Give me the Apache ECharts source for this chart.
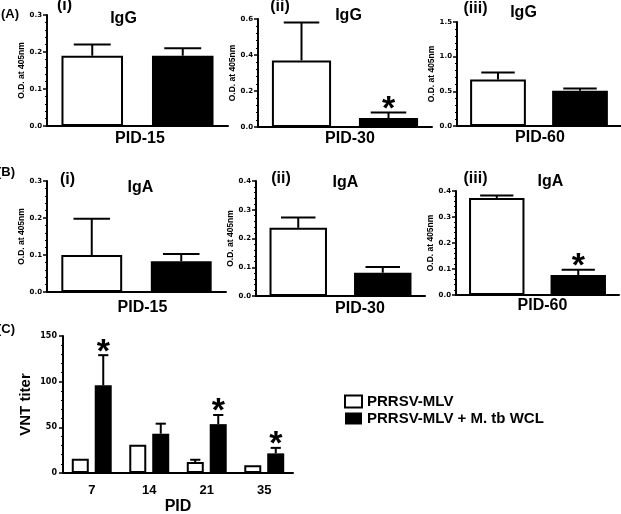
<!DOCTYPE html>
<html><head><meta charset="utf-8">
<script src="https://cdn.jsdelivr.net/npm/echarts@6/dist/echarts.min.js"></script>
<style>html,body{margin:0;padding:0;background:#fff}#c{width:621px;height:514px}</style>
</head><body><div id="c"></div>
<script>
// ---------- data ----------
const groupNames = ['PRRSV-MLV', 'PRRSV-MLV + M. tb WCL'];
const panelDays = ['PID-15', 'PID-30', 'PID-60'];
const panelNumerals = ['(i)', '(ii)', '(iii)'];

const igG_MLV = [0.19, 0.37, 0.67];
const igG_MLV_err = [0.03, 0.21, 0.10];
const igG_WCL = [0.19, 0.05, 0.51];
const igG_WCL_err = [0.02, 0.03, 0.03];
const igG_sig = [false, true, false];
const igG_axisMax = [0.3, 0.6, 1.5];
const igG_axisStep = [0.1, 0.2, 0.5];

const igA_MLV = [0.10, 0.237, 0.373];
const igA_MLV_err = [0.098, 0.036, 0.01];
const igA_WCL = [0.083, 0.081, 0.077];
const igA_WCL_err = [0.02, 0.02, 0.02];
const igA_sig = [false, false, true];
const igA_axisMax = [0.3, 0.4, 0.4];
const igA_axisStep = [0.1, 0.1, 0.1];

const vntDays = ['7', '14', '21', '35'];
const vnt_MLV = [15.6, 31, 12, 8.4];
const vnt_MLV_err = [0, 0, 2.5, 0];
const vnt_WCL = [96, 43, 53.5, 21.5];
const vnt_WCL_err = [33, 11, 10, 6];
const vnt_sig = [true, false, true, true];
const vntAxisMax = 150, vntAxisStep = 50;

// ---------- layout / style ----------
const FONT = '"Liberation Sans", Arial, sans-serif';
const TICKFONT = '"DejaVu Sans", sans-serif';
const gridsAB = [
  {left: 47, top: 15, width: 181, height: 111},
  {left: 258, top: 19, width: 174, height: 108},
  {left: 457, top: 22, width: 164, height: 104},
  {left: 47, top: 181, width: 179, height: 111},
  {left: 256, top: 181, width: 169, height: 115},
  {left: 456, top: 191, width: 163, height: 104}
];
const gridC = {left: 63, top: 336, width: 230, height: 137};
const BLACK = '#000';
const whiteStyle = {color: '#fff', borderColor: BLACK, borderWidth: 2};
const blackStyle = {color: BLACK, borderColor: BLACK, borderWidth: 0};
const axisLineStyle = {color: BLACK, width: 2};

function makeErrRender(fixedBarW, offset) {
  return function (params, api) {
    const cat = api.value(0), v = api.value(1), e = api.value(2), s = api.value(3), side = api.value(4);
    const base = api.coord([cat, v]);
    const top = api.coord([cat, v + e]);
    const barW = fixedBarW || api.size([1, 0])[0] * 0.68;
    const cap = barW * 0.6;
    const x = base[0] + side * offset;
    const children = [];
    if (e > 0) {
      children.push({type: 'line', shape: {x1: x, y1: base[1], x2: x, y2: top[1]}, style: {stroke: BLACK, lineWidth: 2}});
      children.push({type: 'line', shape: {x1: x - cap / 2, y1: top[1], x2: x + cap / 2, y2: top[1]}, style: {stroke: BLACK, lineWidth: 2}});
    }
    if (s) {
      children.push({type: 'text', x: x, y: top[1] - 3,
        style: {text: '*', font: 'bold 34px ' + FONT, align: 'center', verticalAlign: 'middle', fill: BLACK}});
    }
    return {type: 'group', children: children};
  };
}

const grid = [], xAxis = [], yAxis = [], series = [];

function addPanel(i, mlv, mlvErr, wcl, wclErr, sig, max, step) {
  grid.push(Object.assign({outerBoundsMode: 'none', containLabel: false}, gridsAB[i]));
  xAxis.push({gridIndex: i, type: 'category', data: groupNames,
    axisLine: {lineStyle: axisLineStyle}, axisTick: {show: false}, axisLabel: {show: false}});
  yAxis.push({gridIndex: i, type: 'value', min: 0, max: max, interval: step,
    name: 'O.D. at 405nm', nameLocation: 'middle', nameGap: 20,
    nameTextStyle: {fontFamily: FONT, fontSize: 8.5, fontWeight: 'bold', color: BLACK},
    axisLine: {show: true, lineStyle: axisLineStyle},
    axisTick: {show: true, length: 4, lineStyle: {color: BLACK, width: 1.5}},
    minorTick: {show: true, splitNumber: 5, length: 2, lineStyle: {color: BLACK, width: 1}},
    splitLine: {show: false},
    axisLabel: {fontFamily: TICKFONT, fontSize: 7, fontWeight: 'bold', color: BLACK, margin: 5,
      formatter: function (v) { return v.toFixed(1); }}});
  series.push({type: 'bar', name: 'p' + i, xAxisIndex: i, yAxisIndex: i, barWidth: '68%', silent: true,
    data: [{value: mlv, itemStyle: whiteStyle}, {value: wcl, itemStyle: blackStyle}]});
  series.push({type: 'custom', name: 'e' + i, xAxisIndex: i, yAxisIndex: i, z: 5, silent: true,
    renderItem: makeErrRender(0, 0),
    data: [[0, mlv, mlvErr, 0, 0], [1, wcl, wclErr, sig ? 1 : 0, 0]]});
}

for (let k = 0; k < 3; k++) {
  addPanel(k, igG_MLV[k], igG_MLV_err[k], igG_WCL[k], igG_WCL_err[k], igG_sig[k], igG_axisMax[k], igG_axisStep[k]);
}
for (let k = 0; k < 3; k++) {
  addPanel(k + 3, igA_MLV[k], igA_MLV_err[k], igA_WCL[k], igA_WCL_err[k], igA_sig[k], igA_axisMax[k], igA_axisStep[k]);
}

// panel C
grid.push(Object.assign({outerBoundsMode: 'none', containLabel: false}, gridC));
xAxis.push({gridIndex: 6, type: 'category', data: vntDays,
  name: 'PID', nameLocation: 'middle', nameGap: 26,
  nameTextStyle: {fontFamily: FONT, fontSize: 16, fontWeight: 'bold', color: BLACK},
  axisLine: {lineStyle: axisLineStyle}, axisTick: {show: false},
  axisLabel: {fontFamily: FONT, fontSize: 13, fontWeight: 'bold', color: BLACK, margin: 11}});
yAxis.push({gridIndex: 6, type: 'value', min: 0, max: vntAxisMax, interval: vntAxisStep,
  name: 'VNT titer', nameLocation: 'middle', nameGap: 30,
  nameTextStyle: {fontFamily: FONT, fontSize: 15, fontWeight: 'bold', color: BLACK},
  axisLine: {show: true, lineStyle: axisLineStyle},
  axisTick: {show: true, length: 4, lineStyle: {color: BLACK, width: 1.5}},
  minorTick: {show: true, splitNumber: 5, length: 2, lineStyle: {color: BLACK, width: 1}},
  splitLine: {show: false},
  axisLabel: {fontFamily: TICKFONT, fontSize: 8, fontWeight: 'bold', color: BLACK, margin: 6}});
const C_BAR = 17, C_GAP = 6;
series.push({type: 'bar', name: groupNames[0], xAxisIndex: 6, yAxisIndex: 6, barWidth: C_BAR, barGap: '35%',
  itemStyle: whiteStyle, data: vnt_MLV, silent: true});
series.push({type: 'bar', name: groupNames[1], xAxisIndex: 6, yAxisIndex: 6, barWidth: C_BAR, barGap: '35%',
  itemStyle: blackStyle, data: vnt_WCL, silent: true});
series.push({type: 'custom', name: 'eC', xAxisIndex: 6, yAxisIndex: 6, z: 5, silent: true,
  renderItem: makeErrRender(C_BAR, (C_BAR + C_GAP) / 2),
  data: vntDays.map(function (d, j) { return [j, vnt_MLV[j], vnt_MLV_err[j], 0, -1]; })
    .concat(vntDays.map(function (d, j) { return [j, vnt_WCL[j], vnt_WCL_err[j], vnt_sig[j] ? 1 : 0, 1]; }))});

// text labels
function txt(t, x, y, size, align) {
  return {type: 'text', x: x, y: y, silent: true,
    style: {text: t, font: 'bold ' + size + 'px ' + FONT, fill: BLACK, align: align || 'center', verticalAlign: 'middle'}};
}
const graphic = [
  txt('(A)', 1, 14, 13, 'left'),
  txt(panelNumerals[0], 64.5, 6, 16), txt('IgG', 123.5, 19, 16),
  txt(panelNumerals[1], 280, 6.5, 16), txt('IgG', 348.5, 16, 16),
  txt(panelNumerals[2], 475.5, 9, 16), txt('IgG', 523.5, 13, 16),
  txt(panelDays[0], 140, 139, 16), txt(panelDays[1], 350, 139, 16), txt(panelDays[2], 540, 138, 16),
  txt('(B)', -3, 172, 13, 'left'),
  txt(panelNumerals[0], 67.5, 180, 16), txt('IgA', 140.5, 188, 16),
  txt(panelNumerals[1], 281, 179, 16), txt('IgA', 345.5, 183, 16),
  txt(panelNumerals[2], 475.5, 179, 16), txt('IgA', 550.5, 182, 16),
  txt(panelDays[0], 142.5, 308, 16), txt(panelDays[1], 360, 309, 16), txt(panelDays[2], 542.5, 306, 16),
  txt('(C)', -3, 329, 13, 'left')
];

const chart = echarts.init(document.getElementById('c'), null, {renderer: 'canvas'});
chart.setOption({
  animation: false,
  backgroundColor: '#fff',
  grid: grid, xAxis: xAxis, yAxis: yAxis, series: series,
  legend: {data: groupNames, orient: 'vertical', left: 339, top: 389, icon: 'rect',
    itemWidth: 17, itemHeight: 12, itemGap: 2, selectedMode: false,
    textStyle: {fontFamily: FONT, fontSize: 15, fontWeight: 'bold', color: BLACK}},
  graphic: graphic
});
</script></body></html>
